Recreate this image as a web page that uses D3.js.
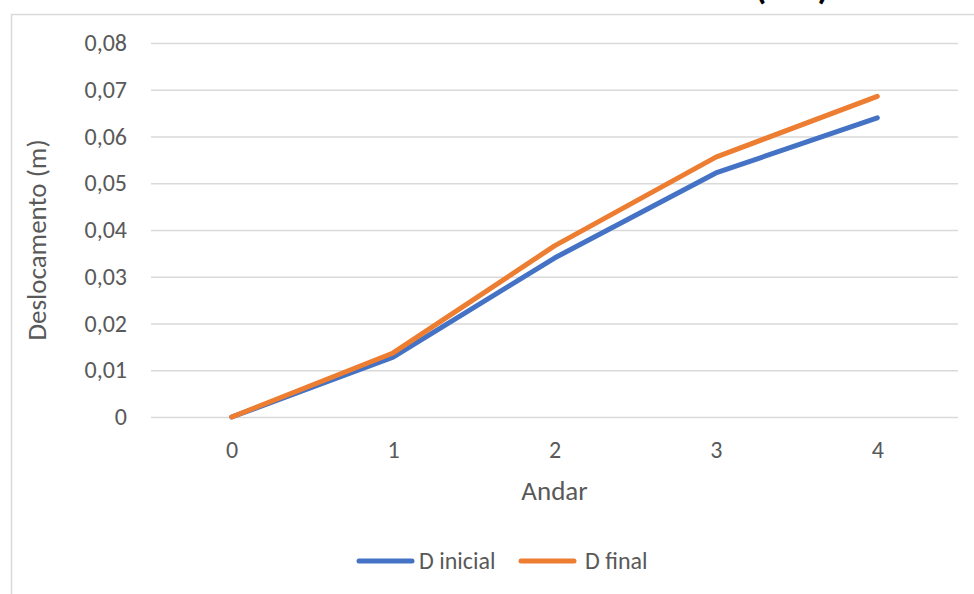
<!DOCTYPE html>
<html>
<head>
<meta charset="utf-8">
<script src="https://cdn.jsdelivr.net/npm/d3@7"></script>
<style>
  html, body { margin: 0; padding: 0; background: #fff; }
  svg { display: block; }
  text { font-family: Carlito, Calibri, Lato, "Open Sans", sans-serif; fill: #595959; }
</style>
</head>
<body>
<svg id="chart" width="974" height="594"></svg>
<script>
// Storey displacement data
const andares = [0, 1, 2, 3, 4];
const dInicial = [0, 0.0128, 0.034, 0.0522, 0.064];
const dFinal = [0, 0.0137, 0.0366, 0.0556, 0.0686];
const yTicks = [0, 0.01, 0.02, 0.03, 0.04, 0.05, 0.06, 0.07, 0.08];
const seriesNames = ["D inicial", "D final"];
const seriesColors = ["#4472C4", "#ED7D31"];

const svg = d3.select("#chart");

// chart frame
svg.append("rect")
  .attr("x", 11.5).attr("y", 14.5)
  .attr("width", 1000).attr("height", 700)
  .attr("fill", "#fff").attr("stroke", "#D9D9D9").attr("stroke-width", 1.5);

// title (sits above the frame, scrolled mostly out of view)
svg.append("text")
  .attr("x", 829).attr("y", -1)
  .attr("text-anchor", "end")
  .style("font-weight", "bold").style("font-size", "37px").style("fill", "#000")
  .text("Deslocamento lateral (ELS)");

const plot = { left: 151, right: 958, top: 43, bottom: 417 };

const x = d3.scalePoint().domain(andares).range([plot.left, plot.right]).padding(0.5);
const y = d3.scaleLinear().domain([0, 0.08]).range([plot.bottom, plot.top]);

const fmt = d => d === 0 ? "0" : d3.format(".2f")(d).replace(".", ",");

// gridlines + y labels
const yAxis = d3.axisLeft(y).tickValues(yTicks).tickFormat(fmt)
  .tickSize(-(plot.right - plot.left)).tickPadding(24);
const gy = svg.append("g").attr("transform", `translate(${plot.left},0)`).call(yAxis);
gy.select(".domain").remove();
gy.selectAll(".tick line").attr("stroke", "#D9D9D9").attr("stroke-width", 1.5);
gy.selectAll(".tick text").style("font-size", "24px").style("fill", "#595959");

// x labels
const xAxis = d3.axisBottom(x).tickSize(0).tickPadding(24);
const gx = svg.append("g").attr("transform", `translate(0,${plot.bottom})`).call(xAxis);
gx.select(".domain").remove();
gx.selectAll(".tick text").style("font-size", "24px").style("fill", "#595959");

// axis titles
svg.append("text")
  .attr("transform", `translate(46,${(plot.top + plot.bottom) / 2 + 10}) rotate(-90)`)
  .attr("text-anchor", "middle").style("font-size", "27px")
  .text("Deslocamento (m)");
svg.append("text")
  .attr("x", (plot.left + plot.right) / 2).attr("y", 500)
  .attr("text-anchor", "middle").style("font-size", "27px")
  .text("Andar");

// series lines
const line = d3.line().x((d, i) => x(andares[i])).y(d => y(d));
[dInicial, dFinal].forEach((vals, k) => {
  svg.append("path")
    .datum(vals)
    .attr("d", line)
    .attr("fill", "none")
    .attr("stroke", seriesColors[k])
    .attr("stroke-width", 5)
    .attr("stroke-linejoin", "round")
    .attr("stroke-linecap", "round");
});

// legend
const legendItems = [{ x: 359, tx: 419 }, { x: 521, tx: 585 }];
legendItems.forEach((p, k) => {
  svg.append("line")
    .attr("x1", p.x).attr("x2", p.x + 53).attr("y1", 561).attr("y2", 561)
    .attr("stroke", seriesColors[k]).attr("stroke-width", 5).attr("stroke-linecap", "round");
  svg.append("text")
    .attr("x", p.tx).attr("y", 569).style("font-size", "24px")
    .text(seriesNames[k]);
});
</script>
</body>
</html>
